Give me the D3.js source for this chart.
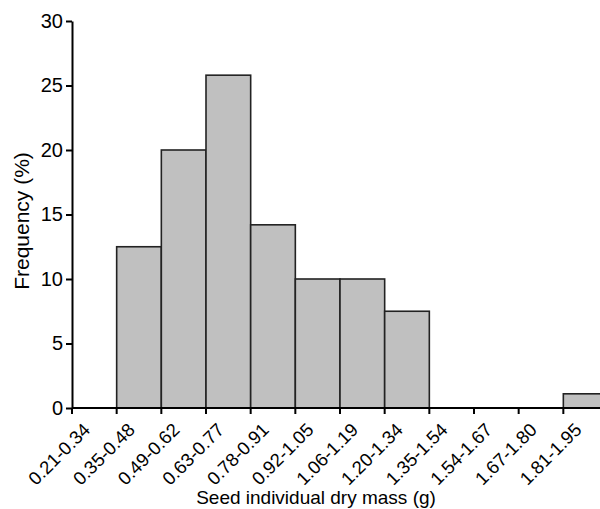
<!DOCTYPE html>
<html>
<head>
<meta charset="utf-8">
<script src="https://cdn.jsdelivr.net/npm/d3@7"></script>
<style>
html,body{margin:0;padding:0;background:#fff;}
svg{display:block;font-family:Arial,"Liberation Sans",sans-serif;}
</style>
</head>
<body>
<svg id="chart" width="600" height="509"></svg>
<script>
const categories = ["0.21-0.34","0.35-0.48","0.49-0.62","0.63-0.77","0.78-0.91","0.92-1.05","1.06-1.19","1.20-1.34","1.35-1.54","1.54-1.67","1.67-1.80","1.81-1.95"];
const frequency = [0, 12.5, 20, 25.8, 14.2, 10, 10, 7.5, 0, 0, 0, 1.1];
const yTicks = [0, 5, 10, 15, 20, 25, 30];

const svg = d3.select("#chart");
const x = d3.scaleBand().domain(categories).range([72, 608]).padding(0);
const y = d3.scaleLinear().domain([0, 30]).range([408, 21]);

// bars
svg.append("g").selectAll("rect")
  .data(categories.map((c, i) => ({c, v: frequency[i]})).filter(d => d.v > 0))
  .join("rect")
  .attr("x", d => x(d.c))
  .attr("y", d => y(d.v))
  .attr("width", x.bandwidth())
  .attr("height", d => y(0) - y(d.v))
  .attr("fill", "#c0c0c0")
  .attr("stroke", "#222")
  .attr("stroke-width", 1.6);

// y axis
const ya = svg.append("g").attr("transform", "translate(72,0)")
  .call(d3.axisLeft(y).tickValues(yTicks).tickSize(6).tickPadding(3).tickSizeOuter(0));
ya.select(".domain").attr("stroke", "#000").attr("stroke-width", 2);
ya.selectAll(".tick line").attr("stroke", "#000").attr("stroke-width", 2);
ya.selectAll(".tick text").attr("font-size", 20).attr("fill", "#000").attr("font-family", "Arial, 'Liberation Sans', sans-serif");

// x axis (ticks at bin boundaries)
const xa = svg.append("g").attr("transform", "translate(0,408)");
xa.append("line").attr("x1", 72).attr("x2", 608).attr("y1", 0).attr("y2", 0)
  .attr("stroke", "#000").attr("stroke-width", 2);
xa.selectAll("line.tk").data(categories).join("line").attr("class", "tk")
  .attr("x1", d => x(d)).attr("x2", d => x(d))
  .attr("y1", 0).attr("y2", 6)
  .attr("stroke", "#000").attr("stroke-width", 2);
xa.selectAll("text").data(categories).join("text")
  .attr("transform", d => `translate(${x(d) + x.bandwidth() / 2 - 3},${23}) rotate(-45)`)
  .attr("text-anchor", "end")
  .attr("font-size", 18.5)
  .attr("fill", "#000")
  .text(d => d);

// axis titles
svg.append("text").attr("x", 316).attr("y", 504).attr("text-anchor", "middle")
  .attr("font-size", 19).attr("fill", "#000").text("Seed individual dry mass (g)");
svg.append("text").attr("transform", "translate(29,221) rotate(-90)").attr("text-anchor", "middle")
  .attr("font-size", 21).attr("fill", "#000").text("Frequency (%)");
</script>
</body>
</html>
